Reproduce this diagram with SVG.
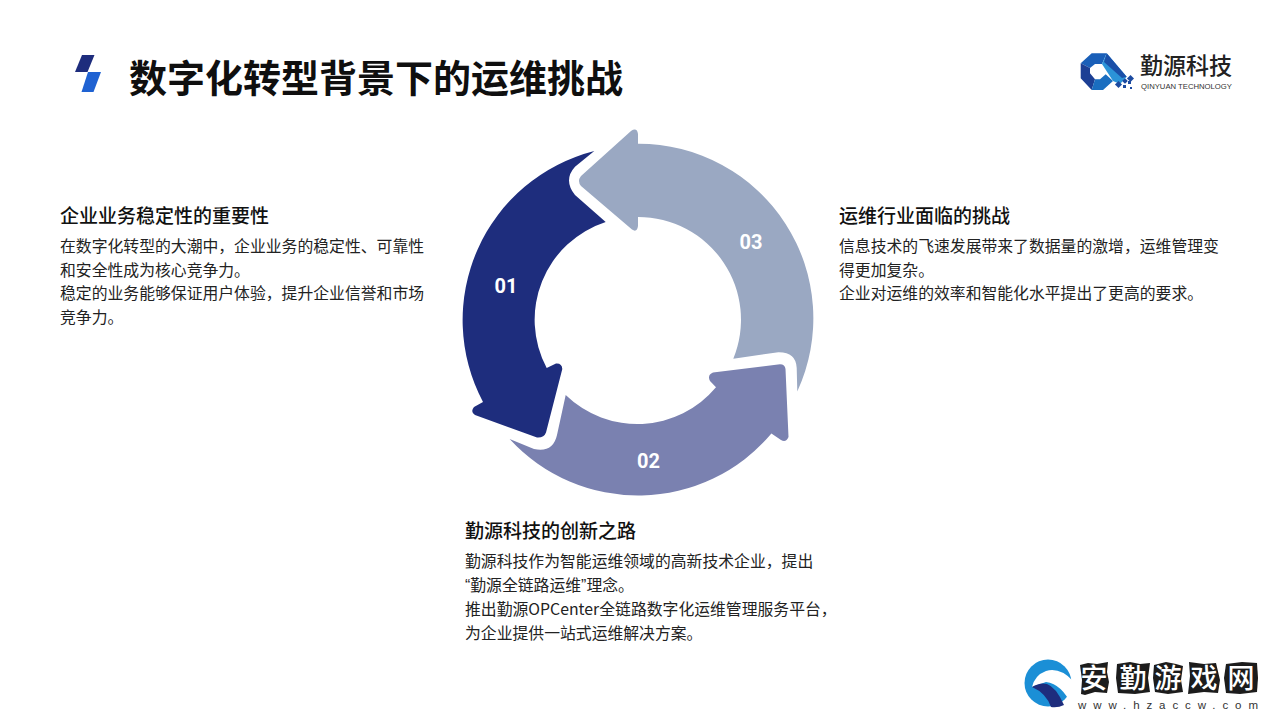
<svg xmlns="http://www.w3.org/2000/svg" width="1269" height="714" viewBox="0 0 1269 714">
<style>
text{font-family:"Noto Sans CJK SC","Liberation Sans",sans-serif;fill:#1a1a1a}
.h{font-size:19px;font-weight:500;fill:#111}
.b{font-size:15.830px;fill:#222}
.q{font-family:"Liberation Sans",sans-serif}
.n{font-family:Roboto,"Liberation Sans",sans-serif;font-size:20px;font-weight:700;fill:#fff;text-anchor:middle}
.wm{font-size:27px;font-weight:500;fill:#fff;text-anchor:middle}
.bk{fill:#1c1c1c}
</style>
<rect width="1269" height="714" fill="#fff"/>
<g id="title-mark"><polygon points="82,55 94.500,55 87.500,72 75,72" fill="#1e2d7d"/><polygon points="88,72 101,72 93.500,92 81.500,92" fill="#1f62d2"/></g>
<text id="title" x="129" y="92" style="font-size:38px;font-weight:700;fill:#0f0f0f">数字化转型背景下的运维挑战</text>
<g id="logo">
<polygon points="1091.700,53.300 1106.700,53.300 1102,64 1095,64 1090,68 1080.700,63.300" fill="#1a5fb8"/>
<polygon points="1080.700,63.300 1090,68 1090,73.300 1095,79.300 1091.700,90 1080.700,78.300" fill="#1c3f94"/>
<polygon points="1095,79.300 1100,79.300 1105.700,74.300 1113,81 1103,90 1091.700,90" fill="#1a6ec0"/>
<polygon points="1106.700,53.300 1126.700,76.700 1120,84 1113,81 1102,64" fill="#2b93d8"/>
<polygon points="1106.700,53.300 1126.700,76.700 1122,78 1104,62" fill="#1a4fa8"/>
<g fill="#1c4aa0"><rect x="1116" y="82" width="5" height="5" transform="rotate(45 1118.500 84.500)"/><rect x="1123" y="79" width="4" height="4" transform="rotate(45 1125 81)"/><rect x="1123" y="85" width="3" height="3"/><rect x="1128" y="81" width="3" height="3"/><rect x="1128" y="76" width="5" height="5" transform="rotate(45 1130.500 78.500)"/><rect x="1130" y="87" width="2" height="2"/></g>
<text x="1140" y="74" style="font-size:23px;font-weight:500;fill:#222">勤源科技</text>
<text x="1141" y="89" textLength="91" lengthAdjust="spacingAndGlyphs" style="font-family:'Liberation Sans',sans-serif;font-size:8px;fill:#333">QINYUAN TECHNOLOGY</text>
</g>
<g id="cycle">
<path id="arrow-03" fill="#9aa8c2" d="M638,143.800 A174.500,174.500 0 0 1 797.300,391.400 L796.700,368 Q796,352 778.300,352.300 L733.300,358.700 A102.700,102.700 0 0 0 638,217 L638,226 Q637,233 632,229.500 L581,186 Q577,181 581,176 L631,131 Q637,127 638,134 Z"/>
<path id="arrow-02" fill="#7a81b0" d="M509.600,439 L534,449 Q553,453 557,435 L565.700,395 A102.700,102.700 0 0 0 716,387.300 L710,381 Q707,375 713,372.500 L780,364.300 Q785,364.500 785.500,369 L788.500,437 Q786,443 781,440 L771.400,433.600 A174.500,174.500 0 0 1 509.600,439 Z"/>
<path id="arrow-01" fill="#1e2d7d" d="M594.300,151 A174.500,174.500 0 0 0 483,402 L474,407 Q470,412 475,415 L537,437.500 Q544,438 546,432.500 L562.300,369 Q562,363 556,363.500 L546.700,368 A102.700,102.700 0 0 1 605.700,222 L575,195 Q563,180 575,166.700 Z"/>
<text class="n" x="506" y="293">01</text>
<text class="n" x="648.500" y="467.500">02</text>
<text class="n" x="751" y="249">03</text>
</g>
<g id="block-01">
<text class="h" x="60" y="223">企业业务稳定性的重要性</text>
<text class="b" x="60" y="252">在数字化转型的大潮中，企业业务的稳定性、可靠性</text>
<text class="b" x="60" y="276">和安全性成为核心竞争力。</text>
<text class="b" x="60" y="299">稳定的业务能够保证用户体验，提升企业信誉和市场</text>
<text class="b" x="60" y="323">竞争力。</text>
</g>
<g id="block-03">
<text class="h" x="839" y="223">运维行业面临的挑战</text>
<text class="b" x="839" y="252">信息技术的飞速发展带来了数据量的激增，运维管理变</text>
<text class="b" x="839" y="276">得更加复杂。</text>
<text class="b" x="839" y="299">企业对运维的效率和智能化水平提出了更高的要求。</text>
</g>
<g id="block-02">
<text class="h" x="465" y="538">勤源科技的创新之路</text>
<text class="b" x="465" y="567">勤源科技作为智能运维领域的高新技术企业，提出</text>
<text class="b" x="465" y="591"><tspan class="q">“</tspan>勤源全链路运维<tspan class="q">”</tspan>理念。</text>
<text class="b" x="465" y="615">推出勤源OPCenter全链路数字化运维管理服务平台，</text>
<text class="b" x="465" y="639">为企业提供一站式运维解决方案。</text>
</g>
<g id="watermark">
<circle cx="1048" cy="683" r="23.500" fill="#1b8fd6"/>
<path d="M1073,681 Q1060,667 1046,671 Q1035,675 1032,687 L1046,682 Q1062,684 1072,706 L1078,690 Z" fill="#fff"/>
<path d="M1032,687 Q1040,682 1047,684 Q1056,687 1064,705 Q1058,708 1051,707 Q1046,693 1032,687 Z" fill="#1e2d7d"/>
<path class="bk" d="M1080,665 L1088,663 L1097,664 L1108,662 L1107,672 L1109,682 L1107,693 L1095,692 L1085,695 L1081,694 L1082,680 Z"/>
<path class="bk" d="M1117,664 L1130,662 L1140,664 L1150,663 L1148,678 L1150,692 L1135,694 L1118,693 L1116,678 Z"/>
<path class="bk" d="M1154,665 L1166,662 L1176,664 L1183,666 L1181,680 L1183,692 L1168,694 L1155,692 L1153,678 Z"/>
<path class="bk" d="M1189,662 L1204,664 L1216,663 L1220,680 L1218,693 L1204,692 L1188,694 L1190,676 Z"/>
<path class="bk" d="M1226,664 L1242,662 L1257,663 L1258,678 L1257,692 L1240,694 L1226,693 L1224,678 Z"/>
<text class="wm" x="1094" y="688">安</text>
<text class="wm" x="1133" y="688">勤</text>
<text class="wm" x="1168" y="688">游</text>
<text class="wm" x="1204" y="688">戏</text>
<text class="wm" x="1241" y="688">网</text>
<text x="1078" y="709" textLength="180" lengthAdjust="spacing" style="font-family:'Liberation Sans',sans-serif;font-size:11.500px;fill:#333">www.hzaccw.com</text>
</g>
</svg>
